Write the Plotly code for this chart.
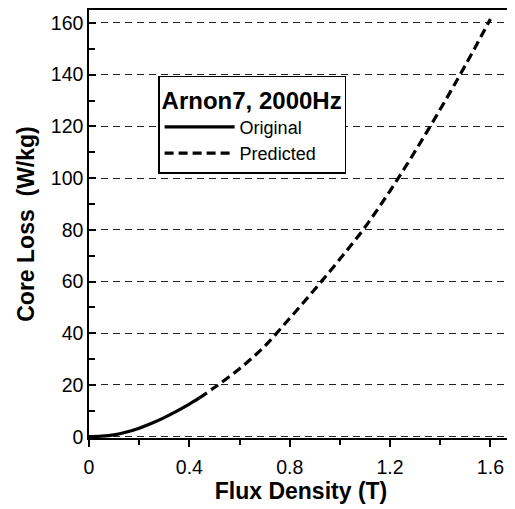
import plotly.graph_objects as go

# Arnon7 core loss at 2000 Hz
b_orig = [0, 0.05, 0.1, 0.15, 0.2, 0.25, 0.3, 0.35, 0.4, 0.44]
p_orig = [0, 0.2, 0.7, 1.8, 3.3, 5.2, 7.4, 9.9, 12.6, 15.0]

b_pred = [0.44, 0.5, 0.6, 0.7, 0.8, 0.9, 1.0, 1.1, 1.2, 1.3, 1.4, 1.5, 1.6]
p_pred = [15.0, 19.0, 26.3, 35.0, 45.8, 57.0, 68.7, 81.0, 95.1, 110.4, 126.6, 143.6, 161.5]

y_ticks = [0, 20, 40, 60, 80, 100, 120, 140, 160]
x_ticks = [0, 0.4, 0.8, 1.2, 1.6]
x_tick_text = ["0", "0.4", "0.8", "1.2", "1.6"]

FONT = "Liberation Sans, Arial, sans-serif"

fig = go.Figure()
fig.add_trace(go.Scatter(x=b_orig, y=p_orig, mode="lines", name="Original",
                         line=dict(color="black", width=3.2, shape="spline")))
fig.add_trace(go.Scatter(x=b_pred, y=p_pred, mode="lines", name="Predicted",
                         line=dict(color="black", width=3.2, dash="9px,5px", shape="spline")))

# page body has an 8px margin, so the figure is sized to fit inside it
fig.update_layout(
    width=507, height=501,
    margin=dict(l=81, r=2, t=2, b=71),
    paper_bgcolor="white", plot_bgcolor="white",
    font=dict(family=FONT, color="black", size=19),
    showlegend=True,
    legend=dict(
        x=0.163, y=0.846, xanchor="left", yanchor="top",
        bordercolor="black", borderwidth=1.5, bgcolor="white",
        title=dict(text="<b>Arnon7, 2000Hz</b>", font=dict(size=24), side="top"),
        font=dict(size=18), itemwidth=70, tracegroupgap=0,
    ),
)

fig.update_xaxes(
    range=[0, 1.69], tickvals=x_ticks, ticktext=x_tick_text,
    ticks="outside", ticklen=7, tickwidth=1.5, tickcolor="black",
    ticklabelstandoff=4,
    minor=dict(dtick=0.2, ticks="outside", ticklen=5, tickcolor="black", tick0=0),
    showline=True, linecolor="black", linewidth=1.5, mirror=True,
    showgrid=False, zeroline=False, automargin=False,
    title=dict(text="<b>Flux Density (T)</b>", font=dict(size=23), standoff=0),
    tickfont=dict(size=19.5),
)
fig.update_yaxes(
    range=[-0.5, 165], tickvals=y_ticks,
    ticks="inside", ticklen=7, tickwidth=1.5, tickcolor="black",
    minor=dict(dtick=10, ticks="inside", ticklen=6, tickcolor="black", tick0=0),
    showline=True, linecolor="black", linewidth=1.5, mirror=True,
    showgrid=True, gridcolor="#222222", gridwidth=1, griddash="7px,5px",
    zeroline=False, automargin=False,
    title=dict(text="<b>Core Loss  (W/kg)</b>", font=dict(size=23), standoff=10),
    tickfont=dict(size=19.5),
)

fig.write_html("out.html")
